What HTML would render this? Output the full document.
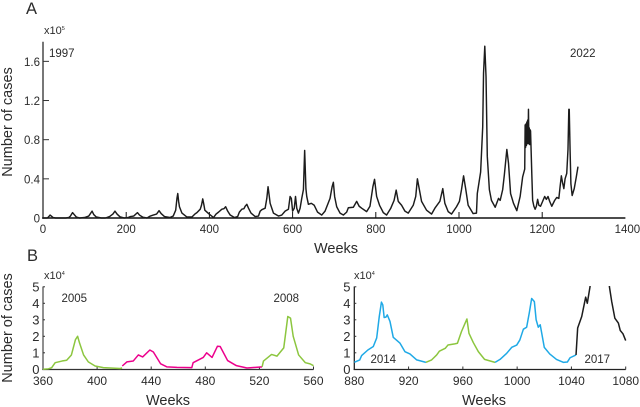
<!DOCTYPE html>
<html lang="en">
<head>
<meta charset="utf-8">
<title>Weekly number of cases</title>
<style>
html,body{margin:0;padding:0;background:#fff;width:640px;height:407px;overflow:hidden}
svg{display:block;position:absolute;left:0;top:0}
text{font-family:"Liberation Sans",sans-serif;fill:#2b2b2b}
</style>
</head>
<body>
<svg id="chart" width="640" height="407" viewBox="0 0 640 407" xmlns="http://www.w3.org/2000/svg">
  <defs>
    <clipPath id="clip-b-right"><rect x="354" y="286" width="274" height="84"></rect></clipPath>
  </defs>
  <text x="26" y="14" font-size="16.5">A</text>
  <text x="27" y="261" font-size="16.5">B</text>
  <text x="44" y="34" font-size="11">x10<tspan dy="-4" font-size="5.5">5</tspan></text>
  <text x="44" y="279" font-size="11">x10<tspan dy="-4" font-size="5.5">4</tspan></text>
  <text x="354" y="279" font-size="11">x10<tspan dy="-4" font-size="5.5">4</tspan></text>
  <text transform="translate(12,122) rotate(-90)" text-anchor="middle" font-size="14.5">Number of cases</text>
  <text transform="translate(12,328) rotate(-90)" text-anchor="middle" font-size="14.5">Number of cases</text>
  <text x="336" y="253" text-anchor="middle" font-size="14.5">Weeks</text>
  <text x="168" y="405" text-anchor="middle" font-size="14.5">Weeks</text>
  <text x="484" y="405" text-anchor="middle" font-size="14.5">Weeks</text>
  <text x="49" y="57" font-size="11.5">1997</text>
  <text x="570" y="57" font-size="11.5">2022</text>
  <text x="61.5" y="302" font-size="11.5">2005</text>
  <text x="273.5" y="302" font-size="11.5">2008</text>
  <text x="370.5" y="363" font-size="11.5">2014</text>
  <text x="584.5" y="363" font-size="11.5">2017</text>
</svg>
<script>
const panelATicksX = [0, 200, 400, 600, 800, 1000, 1200, 1400];
const panelATicksY = [0, 0.4, 0.8, 1.2, 1.6];
const panelATickLabelsY = ["0", "0.4", "0.8", "1.2", "1.6"];
const panelBLeftTicksX = [360, 400, 440, 480, 520, 560];
const panelBRightTicksX = [880, 920, 960, 1000, 1040, 1080];
const panelBTicksY = [0, 1, 2, 3, 4, 5];

const allWeeks = [0,10,13,15,17,20,24,30,55,62,66,71,75,80,88,100,110,118,122,128,140,150,160,168,173,178,185,195,205,210,218,227,232,240,250,258,265,273,279,284,292,305,313,319,322,324,326,328,334,346,358,365,370,378,381,384,387,389,398,410,416,422,430,435,439,444,450,460,468,472,478,483,486,490,494,500,510,518,522,526,534,538,541,544,546,554,566,574,582,590,594,597,600,604,607,610,614,618,622,626,629,632,634,638,645,652,660,670,678,690,695,698,701,706,714,722,730,734,746,754,760,766,778,786,793,797,802,809,818,826,836,844,849,854,862,870,878,890,896,900,905,910,922,934,942,954,961,966,974,982,994,1001,1006,1011,1016,1022,1034,1042,1044,1052,1057,1059,1062,1065,1068,1073,1078,1087,1095,1099,1105,1109,1115,1119,1124,1131,1139,1147,1153,1158,1159,1160,1161,1162,1163,1164,1165,1166,1167,1168,1169,1170,1171,1172,1175,1177,1180,1183,1186,1189,1192,1196,1201,1206,1210,1214,1218,1223,1230,1235,1240,1243,1246,1249,1252,1255,1259,1262,1264,1265,1267,1269,1272,1277,1282,1286];
const allCases = [0,0,.01,.02,.03,.02,.005,0,0,.005,.02,.055,.035,.01,0,.005,.02,.07,.035,.01,0,0,.015,.04,.07,.04,.012,0,.005,.015,.02,.055,.03,.008,0,.02,.03,.04,.075,.045,.015,.005,.02,.08,.2,.25,.17,.115,.05,.01,.01,.04,.055,.09,.13,.195,.13,.08,.045,.005,.04,.06,.09,.095,.115,.07,.03,.005,.015,.06,.09,.095,.12,.14,.1,.05,.015,.02,.07,.085,.1,.2,.32,.22,.15,.05,.02,.03,.07,.09,.22,.2,.07,.1,.22,.1,.05,.1,.2,.29,.69,.3,.22,.14,.15,.13,.06,.03,.07,.2,.32,.365,.22,.115,.05,.03,.06,.105,.11,.17,.12,.1,.065,.12,.32,.395,.22,.13,.055,.03,.1,.18,.285,.17,.13,.07,.05,.13,.22,.4,.285,.17,.08,.04,.1,.17,.3,.15,.065,.04,.115,.17,.29,.43,.3,.13,.045,.05,.25,.47,.93,1.48,1.755,1.44,.63,.29,.18,.11,.2,.18,.29,.44,.7,.56,.25,.15,.075,.22,.42,.5,.95,.72,.96,.74,.98,.76,1.0,.76,1.11,.76,.92,.75,.9,.89,.45,.18,.12,.09,.12,.19,.13,.12,.17,.22,.19,.22,.17,.12,.18,.21,.2,.32,.43,.36,.3,.4,.456,.7,1.11,1.11,.7,.35,.23,.3,.42,.525];

const green2005Weeks = [360,364,366.4,369,374,377.5,381,384,385.6,387,390,393.5,398.5,404.6,417,418.5];
const green2005Cases = [0,.03,.1,.4,.5,.55,.87,1.8,2.0,1.6,.87,.45,.2,.1,.05,.08];
const pinkWeeks = [418.6,422,426.7,430.5,433.7,439,441.6,447,451.5,459,470,471,478.5,481,485,489,491,496.5,503,510.8,522];
const pinkCases = [.2,.45,.5,.87,.75,1.17,1.05,.33,.15,.12,.1,.4,.72,1.0,.72,1.4,1.38,.53,.22,.08,.15];
const green2008Weeks = [522,523,529,533,538,541,543,545,549,554,557.5,560];
const green2008Cases = [.15,.5,.9,.8,1.3,3.2,3.1,2.0,.87,.4,.33,.22];

const blue2014Weeks = [880,884,885.4,890,894,896.5,898.4,900,901,902,903.3,904.3,906.3,908.7,913.7,917.3,921,926,932.8];
const blue2014Cases = [.42,.57,.83,1.17,1.38,1.9,3.2,4.07,3.9,3.14,3.16,3.3,2.9,1.94,1.58,1.07,.93,.57,.42];
const green2016Weeks = [932.8,937,940.7,942.7,947,949,954,956,959,963,964.5,967.7,971.4,976,983.7];
const green2016Cases = [.42,.57,.87,1.1,1.27,1.47,1.54,1.58,2.29,3.05,2.18,1.62,1.07,.6,.42];
const blue2018Weeks = [983.7,987.4,992.3,996,999.7,1002,1004.6,1007,1009,1010.7,1012.7,1014,1015.6,1017,1020,1024,1029,1034,1037,1039,1043.4];
const blue2018Cases = [.42,.6,.97,1.33,1.47,1.78,2.43,2.55,3.44,4.29,4.1,3.0,2.55,2.7,1.33,.93,.6,.42,.44,.7,.87];
const blackTailWeeks = [1043.4,1044.6,1047.6,1050.5,1051.7,1053.7,1062,1068,1069.7,1072,1074.6,1076,1078,1080];
const blackTailCases = [.87,2.5,3.2,4.37,4.0,5.0,17.55,5.0,4.1,3.1,2.8,2.35,2.15,1.74];

const svg = document.getElementById('chart');
const NS = 'http://www.w3.org/2000/svg';

const xA = w => 43 + w * 0.416;
const yA = v => 218 - v * 97.9;
const xBL = w => 43 + (w - 360) * 1.3525;
const xBR = w => 354.3 + (w - 880) * 1.357;
const yB = v => 369.3 - v * 16.5;

function makeLine(x1, y1, x2, y2, color, width) {
  const el = document.createElementNS(NS, 'line');
  el.setAttribute('x1', x1);
  el.setAttribute('y1', y1);
  el.setAttribute('x2', x2);
  el.setAttribute('y2', y2);
  el.setAttribute('stroke', color);
  el.setAttribute('stroke-width', width);
  svg.appendChild(el);
  return el;
}
function makeLabel(x, y, anchor, content, size) {
  const el = document.createElementNS(NS, 'text');
  el.setAttribute('x', x);
  el.setAttribute('y', y);
  el.setAttribute('text-anchor', anchor);
  el.setAttribute('font-size', size);
  el.textContent = content;
  svg.appendChild(el);
  return el;
}
function makeSeries(weeks, cases, xf, yf, color, width) {
  const el = document.createElementNS(NS, 'polyline');
  el.setAttribute('points', weeks.map((w, i) => xf(w).toFixed(2) + ',' + yf(cases[i]).toFixed(2)).join(' '));
  el.setAttribute('fill', 'none');
  el.setAttribute('stroke', color);
  el.setAttribute('stroke-width', width);
  el.setAttribute('stroke-linejoin', 'round');
  svg.appendChild(el);
  return el;
}

/* Panel A */
let el = makeLine(43, 41.7, 43, 218.7, '#555', 1.6);


el = makeLine(42.2, 218, xA(1400), 218, '#111', 1.5);


panelATicksX.forEach(t => {
  if (t > 0 && t < 1400) {
    const tick = makeLine(xA(t), 218, xA(t), 212, '#111', 1);
    
    
  }
  const label = makeLabel(t === 1400 ? xA(t) + 2 : xA(t), 233, 'middle', String(t), 11.5);
  
  
});
panelATicksY.forEach((t, i) => {
  if (t > 0) {
    const tick = makeLine(43, yA(t), 49, yA(t), '#333', 1);
    
    
  }
  const label = makeLabel(40, yA(t) + 4.5, 'end', panelATickLabelsY[i], 11.5);
  
  
});
el = makeSeries(allWeeks, allCases, xA, yA, '#1c1c1c', 1.45);



/* Panel B axes */
el = makeLine(43, 286.5, 43, 370, '#444', 1.2);


el = makeLine(42.4, 369.5, xBL(560), 369.5, '#333', 1.2);


el = makeLine(354.3, 286.5, 354.3, 370, '#222', 1.3);


el = makeLine(353.7, 369.5, xBR(1080), 369.5, '#222', 1.2);



panelBLeftTicksX.forEach(t => {
  const label = makeLabel(xBL(t), 385, 'middle', String(t), 12);
  
  
  if (t > 360) {
    const tick = makeLine(xBL(t), 369.5, xBL(t), 366.5, '#333', 1);
    
    
  }
});
panelBRightTicksX.forEach(t => {
  const label = makeLabel(xBR(t), 385, 'middle', String(t), 12);
  
  
  if (t > 880) {
    const tick = makeLine(xBR(t), 369.5, xBR(t), 366.5, '#333', 1);
    
    
  }
});
panelBTicksY.forEach(t => {
  const labelL = makeLabel(39.5, yB(t) + 4.5, 'end', String(t), 13);
  
  
  const labelR = makeLabel(350.5, yB(t) + 4.5, 'end', String(t), 13);
  
  
  if (t > 0) {
    const tickL = makeLine(43, yB(t), 45, yB(t), '#333', 1);
    
    
    const tickR = makeLine(354.3, yB(t), 356.3, yB(t), '#333', 1);
    
    
  }
});

/* Panel B series */
el = makeSeries(green2005Weeks, green2005Cases, xBL, yB, '#8cc63f', 1.5);


el = makeSeries(pinkWeeks, pinkCases, xBL, yB, '#ec008c', 1.5);


el = makeSeries(green2008Weeks, green2008Cases, xBL, yB, '#8cc63f', 1.5);


el = makeSeries(blue2014Weeks, blue2014Cases, xBR, yB, '#1fa9e6', 1.5);


el = makeSeries(green2016Weeks, green2016Cases, xBR, yB, '#8cc63f', 1.5);


el = makeSeries(blue2018Weeks, blue2018Cases, xBR, yB, '#1fa9e6', 1.5);


el = makeSeries(blackTailWeeks, blackTailCases, xBR, yB, '#1c1c1c', 1.5);
el.setAttribute('clip-path', 'url(#clip-b-right)');


</script>
</body>
</html>
